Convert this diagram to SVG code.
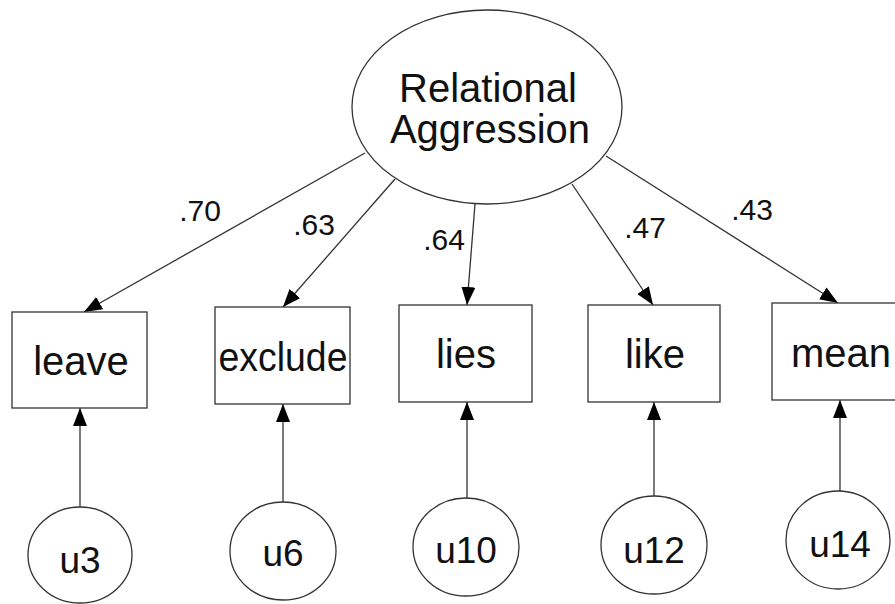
<svg xmlns="http://www.w3.org/2000/svg" width="895" height="604" viewBox="0 0 895 604">
<defs>
<marker id="arr" viewBox="0 0 18 14" refX="18" refY="7" markerWidth="18" markerHeight="14" markerUnits="userSpaceOnUse" orient="auto">
<path d="M0,0 L18,7 L0,14 Z" fill="#000"/>
</marker>
<style>
.sh{fill:#fff;stroke:#333;stroke-width:1.3}
.t{font-family:"Liberation Sans",Arial,sans-serif;fill:#111;text-anchor:middle}
.big{font-size:40px}
.box{font-size:40px}
.err{font-size:37px}
.lab{font-size:30px}
.ln{stroke:#333;stroke-width:1.3;fill:none;marker-end:url(#arr)}
</style>
</defs>
<rect width="895" height="604" fill="#fff"/>
<g id="connectors">
<line class="ln" x1="365" y1="153" x2="84" y2="312"/>
<line class="ln" x1="395" y1="179" x2="283" y2="307"/>
<line class="ln" x1="475" y1="204" x2="467" y2="305"/>
<line class="ln" x1="572" y1="184" x2="653" y2="305"/>
<line class="ln" x1="606" y1="156" x2="838" y2="303"/>
<line class="ln" x1="80" y1="507" x2="80" y2="408"/>
<line class="ln" x1="283" y1="502" x2="283" y2="404"/>
<line class="ln" x1="467" y1="498" x2="467" y2="402"/>
<line class="ln" x1="654" y1="496" x2="654" y2="402"/>
<line class="ln" x1="840" y1="491" x2="840" y2="400"/>
<text class="t lab" x="200" y="221">.70</text>
<text class="t lab" x="314" y="235">.63</text>
<text class="t lab" x="444" y="250">.64</text>
<text class="t lab" x="645" y="238">.47</text>
<text class="t lab" x="752" y="220">.43</text>
</g>
<g id="relational-aggression">
<ellipse class="sh" cx="487" cy="107" rx="135" ry="97"/>
<text class="t big" x="488" y="102">Relational</text>
<text class="t big" x="490" y="143">Aggression</text>
</g>
<g id="leave">
<rect class="sh" x="12" y="312" width="135" height="96"/>
<text class="t box" x="81" y="375">leave</text>
</g>
<g id="exclude">
<rect class="sh" x="215" y="307" width="135" height="97"/>
<text class="t box" x="283" y="371" textLength="129" lengthAdjust="spacingAndGlyphs">exclude</text>
</g>
<g id="lies">
<rect class="sh" x="399" y="305" width="133" height="97"/>
<text class="t box" x="466" y="368">lies</text>
</g>
<g id="like">
<rect class="sh" x="588" y="305" width="132" height="97"/>
<text class="t box" x="655" y="368">like</text>
</g>
<g id="mean">
<rect class="sh" x="772" y="303" width="136" height="97"/>
<text class="t box" x="841" y="367">mean</text>
</g>
<g id="u3">
<ellipse class="sh" cx="80" cy="555" rx="52" ry="48"/>
<text class="t err" x="80" y="573">u3</text>
</g>
<g id="u6">
<ellipse class="sh" cx="283" cy="551" rx="53" ry="49"/>
<text class="t err" x="283" y="566">u6</text>
</g>
<g id="u10">
<ellipse class="sh" cx="466" cy="547" rx="53" ry="49"/>
<text class="t err" x="466" y="563">u10</text>
</g>
<g id="u12">
<ellipse class="sh" cx="654" cy="545" rx="53" ry="49"/>
<text class="t err" x="654" y="563">u12</text>
</g>
<g id="u14">
<ellipse class="sh" cx="838" cy="540" rx="52" ry="49"/>
<text class="t err" x="840" y="557">u14</text>
</g>
</svg>
